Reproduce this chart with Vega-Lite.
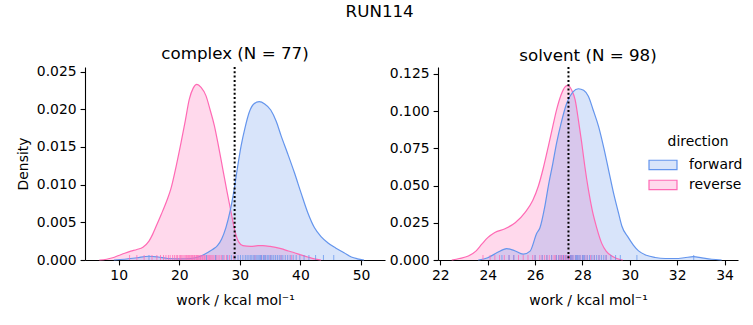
{
  "$schema": "https://vega.github.io/schema/vega-lite/v6.json",
  "padding": {"left": 16, "top": 4, "right": 5, "bottom": 5},
  "title": {"text": "RUN114", "anchor": "middle", "offset": 25.5},
  "config": {
    "font": "DejaVu Sans",
    "view": {"stroke": null},
    "title": {"font": "DejaVu Sans", "fontSize": 16.7, "fontWeight": "normal", "color": "black"},
    "axis": {
      "domainColor": "black", "tickColor": "black", "labelColor": "black", "titleColor": "black",
      "labelFont": "DejaVu Sans", "titleFont": "DejaVu Sans", "labelFontSize": 13.9, "titleFontSize": 13.9,
      "titleFontWeight": "normal", "tickSize": 4.9, "labelPadding": 4, "grid": false,
      "domainWidth": 1.1, "tickWidth": 1.1, "labelOverlap": false, "labelFlush": false
    },
    "axisX": {"titlePadding": 11},
    "axisY": {"titlePadding": 6},
    "legend": {
      "titleFont": "DejaVu Sans", "labelFont": "DejaVu Sans", "titleFontSize": 13.9, "labelFontSize": 13.9,
      "titleFontWeight": "normal", "titleColor": "black", "labelColor": "black",
      "titleAnchor": "middle", "titleAlign": "center", "titlePadding": 6, "padding": 0,
      "symbolType": "M-1.5,-0.5H1.5V0.5H-1.5Z", "symbolSize": 348, "labelOffset": 16, "rowPadding": 2
    }
  },
  "datasets": {
    "complex_kde": [
      {"direction": "reverse", "work": 6.8, "density": 0},
      {"direction": "reverse", "work": 8.0, "density": 0.0001},
      {"direction": "reverse", "work": 9.0, "density": 0.0003},
      {"direction": "reverse", "work": 10.0, "density": 0.0006},
      {"direction": "reverse", "work": 11.0, "density": 0.0009},
      {"direction": "reverse", "work": 12.0, "density": 0.00117},
      {"direction": "reverse", "work": 13.0, "density": 0.0014},
      {"direction": "reverse", "work": 14.0, "density": 0.0017},
      {"direction": "reverse", "work": 15.0, "density": 0.0025},
      {"direction": "reverse", "work": 15.6, "density": 0.0034},
      {"direction": "reverse", "work": 16.2, "density": 0.0045},
      {"direction": "reverse", "work": 17.0, "density": 0.006},
      {"direction": "reverse", "work": 18.0, "density": 0.008},
      {"direction": "reverse", "work": 18.6, "density": 0.0094},
      {"direction": "reverse", "work": 19.5, "density": 0.0125},
      {"direction": "reverse", "work": 20.3, "density": 0.0156},
      {"direction": "reverse", "work": 21.0, "density": 0.0185},
      {"direction": "reverse", "work": 21.65, "density": 0.0213},
      {"direction": "reverse", "work": 22.3, "density": 0.0228},
      {"direction": "reverse", "work": 22.9, "density": 0.0233},
      {"direction": "reverse", "work": 23.6, "density": 0.0229},
      {"direction": "reverse", "work": 24.4, "density": 0.0218},
      {"direction": "reverse", "work": 25.1, "density": 0.0199},
      {"direction": "reverse", "work": 25.8, "density": 0.0178},
      {"direction": "reverse", "work": 26.5, "density": 0.015},
      {"direction": "reverse", "work": 27.2, "density": 0.012},
      {"direction": "reverse", "work": 27.9, "density": 0.009},
      {"direction": "reverse", "work": 28.56, "density": 0.0063},
      {"direction": "reverse", "work": 29.2, "density": 0.0038},
      {"direction": "reverse", "work": 29.8, "density": 0.0024},
      {"direction": "reverse", "work": 30.5, "density": 0.0019},
      {"direction": "reverse", "work": 31.8, "density": 0.0018},
      {"direction": "reverse", "work": 33.0, "density": 0.0019},
      {"direction": "reverse", "work": 33.8, "density": 0.0019},
      {"direction": "reverse", "work": 35.0, "density": 0.0018},
      {"direction": "reverse", "work": 36.8, "density": 0.0015},
      {"direction": "reverse", "work": 38.0, "density": 0.0012},
      {"direction": "reverse", "work": 39.0, "density": 0.00096},
      {"direction": "reverse", "work": 40.0, "density": 0.0007},
      {"direction": "reverse", "work": 41.2, "density": 0.0004},
      {"direction": "reverse", "work": 42.3, "density": 0.00015},
      {"direction": "reverse", "work": 43.4, "density": 0},
      {"direction": "forward", "work": 9.2, "density": 0},
      {"direction": "forward", "work": 11.0, "density": 0.0001},
      {"direction": "forward", "work": 13.0, "density": 0.0003},
      {"direction": "forward", "work": 15.0, "density": 0.0005},
      {"direction": "forward", "work": 16.5, "density": 0.0004},
      {"direction": "forward", "work": 18.1, "density": 0.0002},
      {"direction": "forward", "work": 20.0, "density": 0.00015},
      {"direction": "forward", "work": 21.9, "density": 0.0002},
      {"direction": "forward", "work": 23.5, "density": 0.0005},
      {"direction": "forward", "work": 24.7, "density": 0.001},
      {"direction": "forward", "work": 25.5, "density": 0.0014},
      {"direction": "forward", "work": 26.3, "density": 0.0019},
      {"direction": "forward", "work": 27.0, "density": 0.0028},
      {"direction": "forward", "work": 27.7, "density": 0.0043},
      {"direction": "forward", "work": 28.4, "density": 0.0065},
      {"direction": "forward", "work": 29.07, "density": 0.0094},
      {"direction": "forward", "work": 29.6, "density": 0.0122},
      {"direction": "forward", "work": 30.2, "density": 0.0151},
      {"direction": "forward", "work": 30.9, "density": 0.0177},
      {"direction": "forward", "work": 31.55, "density": 0.0196},
      {"direction": "forward", "work": 32.3, "density": 0.0207},
      {"direction": "forward", "work": 33.2, "density": 0.021},
      {"direction": "forward", "work": 34.1, "density": 0.0207},
      {"direction": "forward", "work": 35.1, "density": 0.0199},
      {"direction": "forward", "work": 36.0, "density": 0.0184},
      {"direction": "forward", "work": 36.8, "density": 0.0165},
      {"direction": "forward", "work": 37.9, "density": 0.0141},
      {"direction": "forward", "work": 39.0, "density": 0.0116},
      {"direction": "forward", "work": 40.1, "density": 0.0089},
      {"direction": "forward", "work": 41.2, "density": 0.0063},
      {"direction": "forward", "work": 42.3, "density": 0.0043},
      {"direction": "forward", "work": 43.4, "density": 0.0031},
      {"direction": "forward", "work": 44.5, "density": 0.0023},
      {"direction": "forward", "work": 45.8, "density": 0.0016},
      {"direction": "forward", "work": 47.2, "density": 0.00096},
      {"direction": "forward", "work": 48.4, "density": 0.0004},
      {"direction": "forward", "work": 49.4, "density": 0.00016},
      {"direction": "forward", "work": 50.5, "density": 0}
    ],
    "solvent_kde": [
      {"direction": "reverse", "work": 22.48, "density": 0},
      {"direction": "reverse", "work": 22.8, "density": 0.001},
      {"direction": "reverse", "work": 23.18, "density": 0.0027},
      {"direction": "reverse", "work": 23.5, "density": 0.006},
      {"direction": "reverse", "work": 23.75, "density": 0.0106},
      {"direction": "reverse", "work": 24.0, "density": 0.015},
      {"direction": "reverse", "work": 24.3, "density": 0.0185},
      {"direction": "reverse", "work": 24.73, "density": 0.021},
      {"direction": "reverse", "work": 25.16, "density": 0.025},
      {"direction": "reverse", "work": 25.58, "density": 0.032},
      {"direction": "reverse", "work": 25.9, "density": 0.04},
      {"direction": "reverse", "work": 26.14, "density": 0.0497},
      {"direction": "reverse", "work": 26.35, "density": 0.062},
      {"direction": "reverse", "work": 26.56, "density": 0.0764},
      {"direction": "reverse", "work": 26.75, "density": 0.09},
      {"direction": "reverse", "work": 26.91, "density": 0.101},
      {"direction": "reverse", "work": 27.1, "density": 0.111},
      {"direction": "reverse", "work": 27.25, "density": 0.116},
      {"direction": "reverse", "work": 27.38, "density": 0.1173},
      {"direction": "reverse", "work": 27.55, "density": 0.114},
      {"direction": "reverse", "work": 27.69, "density": 0.1077},
      {"direction": "reverse", "work": 27.83, "density": 0.094},
      {"direction": "reverse", "work": 27.97, "density": 0.0787},
      {"direction": "reverse", "work": 28.1, "density": 0.063},
      {"direction": "reverse", "work": 28.25, "density": 0.0474},
      {"direction": "reverse", "work": 28.42, "density": 0.033},
      {"direction": "reverse", "work": 28.6, "density": 0.0218},
      {"direction": "reverse", "work": 28.82, "density": 0.011},
      {"direction": "reverse", "work": 29.0, "density": 0.006},
      {"direction": "reverse", "work": 29.24, "density": 0.0027},
      {"direction": "reverse", "work": 29.45, "density": 0.001},
      {"direction": "reverse", "work": 29.7, "density": 0},
      {"direction": "forward", "work": 23.6, "density": 0},
      {"direction": "forward", "work": 24.0, "density": 0.0015},
      {"direction": "forward", "work": 24.4, "density": 0.005},
      {"direction": "forward", "work": 24.8, "density": 0.0077},
      {"direction": "forward", "work": 25.1, "density": 0.0065},
      {"direction": "forward", "work": 25.5, "density": 0.0039},
      {"direction": "forward", "work": 25.79, "density": 0.006},
      {"direction": "forward", "work": 26.07, "density": 0.018},
      {"direction": "forward", "work": 26.21, "density": 0.0218},
      {"direction": "forward", "work": 26.4, "density": 0.035},
      {"direction": "forward", "work": 26.56, "density": 0.0497},
      {"direction": "forward", "work": 26.75, "density": 0.065},
      {"direction": "forward", "work": 26.91, "density": 0.0787},
      {"direction": "forward", "work": 27.1, "density": 0.092},
      {"direction": "forward", "work": 27.34, "density": 0.1055},
      {"direction": "forward", "work": 27.6, "density": 0.113},
      {"direction": "forward", "work": 27.83, "density": 0.1151},
      {"direction": "forward", "work": 28.05, "density": 0.114},
      {"direction": "forward", "work": 28.25, "density": 0.11},
      {"direction": "forward", "work": 28.45, "density": 0.101},
      {"direction": "forward", "work": 28.68, "density": 0.0898},
      {"direction": "forward", "work": 28.9, "density": 0.0755},
      {"direction": "forward", "work": 29.1, "density": 0.0608},
      {"direction": "forward", "work": 29.3, "density": 0.046},
      {"direction": "forward", "work": 29.52, "density": 0.0318},
      {"direction": "forward", "work": 29.66, "density": 0.023},
      {"direction": "forward", "work": 29.94, "density": 0.015},
      {"direction": "forward", "work": 30.15, "density": 0.01},
      {"direction": "forward", "work": 30.37, "density": 0.0061},
      {"direction": "forward", "work": 30.7, "density": 0.0032},
      {"direction": "forward", "work": 31.07, "density": 0.0017},
      {"direction": "forward", "work": 31.5, "density": 0.001},
      {"direction": "forward", "work": 31.92, "density": 0.001},
      {"direction": "forward", "work": 32.3, "density": 0.0015},
      {"direction": "forward", "work": 32.69, "density": 0.0023},
      {"direction": "forward", "work": 33.05, "density": 0.0014},
      {"direction": "forward", "work": 33.46, "density": 0.0005},
      {"direction": "forward", "work": 33.88, "density": 0}
    ],
    "complex_rug": [
      {"direction": "reverse", "work": 11.8}, {"direction": "reverse", "work": 13.0}, {"direction": "reverse", "work": 14.2},
      {"direction": "reverse", "work": 15.5}, {"direction": "reverse", "work": 16.3}, {"direction": "reverse", "work": 16.9},
      {"direction": "reverse", "work": 17.4}, {"direction": "reverse", "work": 17.8}, {"direction": "reverse", "work": 18.2},
      {"direction": "reverse", "work": 18.5}, {"direction": "reverse", "work": 18.9}, {"direction": "reverse", "work": 19.2},
      {"direction": "reverse", "work": 19.5}, {"direction": "reverse", "work": 19.7}, {"direction": "reverse", "work": 20.0},
      {"direction": "reverse", "work": 20.2}, {"direction": "reverse", "work": 20.4}, {"direction": "reverse", "work": 20.6},
      {"direction": "reverse", "work": 20.8}, {"direction": "reverse", "work": 21.0}, {"direction": "reverse", "work": 21.2},
      {"direction": "reverse", "work": 21.4}, {"direction": "reverse", "work": 21.5}, {"direction": "reverse", "work": 21.7},
      {"direction": "reverse", "work": 21.9}, {"direction": "reverse", "work": 22.0}, {"direction": "reverse", "work": 22.2},
      {"direction": "reverse", "work": 22.3}, {"direction": "reverse", "work": 22.5}, {"direction": "reverse", "work": 22.6},
      {"direction": "reverse", "work": 22.8}, {"direction": "reverse", "work": 22.9}, {"direction": "reverse", "work": 23.0},
      {"direction": "reverse", "work": 23.2}, {"direction": "reverse", "work": 23.3}, {"direction": "reverse", "work": 23.5},
      {"direction": "reverse", "work": 23.6}, {"direction": "reverse", "work": 23.8}, {"direction": "reverse", "work": 23.9},
      {"direction": "reverse", "work": 24.1}, {"direction": "reverse", "work": 24.2}, {"direction": "reverse", "work": 24.4},
      {"direction": "reverse", "work": 24.6}, {"direction": "reverse", "work": 24.8}, {"direction": "reverse", "work": 25.0},
      {"direction": "reverse", "work": 25.2}, {"direction": "reverse", "work": 25.4}, {"direction": "reverse", "work": 25.6},
      {"direction": "reverse", "work": 25.9}, {"direction": "reverse", "work": 26.1}, {"direction": "reverse", "work": 26.4},
      {"direction": "reverse", "work": 26.7}, {"direction": "reverse", "work": 27.0}, {"direction": "reverse", "work": 27.4},
      {"direction": "reverse", "work": 27.8}, {"direction": "reverse", "work": 28.3}, {"direction": "reverse", "work": 29.0},
      {"direction": "reverse", "work": 32.5}, {"direction": "reverse", "work": 33.6}, {"direction": "reverse", "work": 34.2},
      {"direction": "reverse", "work": 35.0}, {"direction": "reverse", "work": 36.8}, {"direction": "reverse", "work": 38.5},
      {"direction": "forward", "work": 15.0}, {"direction": "forward", "work": 24.5}, {"direction": "forward", "work": 26.0},
      {"direction": "forward", "work": 27.2}, {"direction": "forward", "work": 28.0}, {"direction": "forward", "work": 28.6},
      {"direction": "forward", "work": 29.2}, {"direction": "forward", "work": 29.7}, {"direction": "forward", "work": 30.1},
      {"direction": "forward", "work": 30.5}, {"direction": "forward", "work": 30.9}, {"direction": "forward", "work": 31.2},
      {"direction": "forward", "work": 31.5}, {"direction": "forward", "work": 31.8}, {"direction": "forward", "work": 32.0},
      {"direction": "forward", "work": 32.3}, {"direction": "forward", "work": 32.5}, {"direction": "forward", "work": 32.8},
      {"direction": "forward", "work": 33.0}, {"direction": "forward", "work": 33.2}, {"direction": "forward", "work": 33.4},
      {"direction": "forward", "work": 33.6}, {"direction": "forward", "work": 33.9}, {"direction": "forward", "work": 34.1},
      {"direction": "forward", "work": 34.3}, {"direction": "forward", "work": 34.6}, {"direction": "forward", "work": 34.8},
      {"direction": "forward", "work": 35.1}, {"direction": "forward", "work": 35.3}, {"direction": "forward", "work": 35.6},
      {"direction": "forward", "work": 35.9}, {"direction": "forward", "work": 36.2}, {"direction": "forward", "work": 36.5},
      {"direction": "forward", "work": 36.8}, {"direction": "forward", "work": 37.1}, {"direction": "forward", "work": 37.5},
      {"direction": "forward", "work": 37.9}, {"direction": "forward", "work": 38.3}, {"direction": "forward", "work": 38.8},
      {"direction": "forward", "work": 39.3}, {"direction": "forward", "work": 39.9}, {"direction": "forward", "work": 40.6},
      {"direction": "forward", "work": 41.4}, {"direction": "forward", "work": 42.5}, {"direction": "forward", "work": 43.8},
      {"direction": "forward", "work": 45.5}
    ],
    "solvent_rug": [
      {"direction": "reverse", "work": 23.8}, {"direction": "reverse", "work": 24.1}, {"direction": "reverse", "work": 24.3},
      {"direction": "reverse", "work": 24.5}, {"direction": "reverse", "work": 24.7}, {"direction": "reverse", "work": 24.9},
      {"direction": "reverse", "work": 25.1}, {"direction": "reverse", "work": 25.3}, {"direction": "reverse", "work": 25.5},
      {"direction": "reverse", "work": 25.7}, {"direction": "reverse", "work": 25.9}, {"direction": "reverse", "work": 26.0},
      {"direction": "reverse", "work": 26.2}, {"direction": "reverse", "work": 26.3}, {"direction": "reverse", "work": 26.4},
      {"direction": "reverse", "work": 26.5}, {"direction": "reverse", "work": 26.6}, {"direction": "reverse", "work": 26.7},
      {"direction": "reverse", "work": 26.8}, {"direction": "reverse", "work": 26.85}, {"direction": "reverse", "work": 26.9},
      {"direction": "reverse", "work": 27.0}, {"direction": "reverse", "work": 27.05}, {"direction": "reverse", "work": 27.1},
      {"direction": "reverse", "work": 27.15}, {"direction": "reverse", "work": 27.2}, {"direction": "reverse", "work": 27.25},
      {"direction": "reverse", "work": 27.3}, {"direction": "reverse", "work": 27.35}, {"direction": "reverse", "work": 27.4},
      {"direction": "reverse", "work": 27.45}, {"direction": "reverse", "work": 27.5}, {"direction": "reverse", "work": 27.55},
      {"direction": "reverse", "work": 27.6}, {"direction": "reverse", "work": 27.7}, {"direction": "reverse", "work": 27.8},
      {"direction": "reverse", "work": 27.9}, {"direction": "reverse", "work": 28.0}, {"direction": "reverse", "work": 28.1},
      {"direction": "reverse", "work": 28.2}, {"direction": "reverse", "work": 28.35}, {"direction": "reverse", "work": 28.5},
      {"direction": "reverse", "work": 28.7}, {"direction": "reverse", "work": 29.0},
      {"direction": "forward", "work": 24.6}, {"direction": "forward", "work": 24.9}, {"direction": "forward", "work": 25.1},
      {"direction": "forward", "work": 26.0}, {"direction": "forward", "work": 26.3}, {"direction": "forward", "work": 26.5},
      {"direction": "forward", "work": 26.7}, {"direction": "forward", "work": 26.9}, {"direction": "forward", "work": 27.0},
      {"direction": "forward", "work": 27.1}, {"direction": "forward", "work": 27.2}, {"direction": "forward", "work": 27.3},
      {"direction": "forward", "work": 27.4}, {"direction": "forward", "work": 27.5}, {"direction": "forward", "work": 27.55},
      {"direction": "forward", "work": 27.6}, {"direction": "forward", "work": 27.7}, {"direction": "forward", "work": 27.75},
      {"direction": "forward", "work": 27.8}, {"direction": "forward", "work": 27.85}, {"direction": "forward", "work": 27.9},
      {"direction": "forward", "work": 28.0}, {"direction": "forward", "work": 28.05}, {"direction": "forward", "work": 28.1},
      {"direction": "forward", "work": 28.2}, {"direction": "forward", "work": 28.3}, {"direction": "forward", "work": 28.4},
      {"direction": "forward", "work": 28.5}, {"direction": "forward", "work": 28.6}, {"direction": "forward", "work": 28.7},
      {"direction": "forward", "work": 28.8}, {"direction": "forward", "work": 28.9}, {"direction": "forward", "work": 29.0},
      {"direction": "forward", "work": 29.2}, {"direction": "forward", "work": 29.4}, {"direction": "forward", "work": 29.6},
      {"direction": "forward", "work": 30.3}, {"direction": "forward", "work": 32.7}
    ],
    "complex_ref": [{"work": 29.14}],
    "solvent_ref": [{"work": 27.41}]
  },
  "spacing": 4,
  "resolve": {"scale": {"x": "independent", "y": "independent", "color": "shared"}},
  "hconcat": [
    {
      "width": 300, "height": 193,
      "title": {"text": "complex (N = 77)", "offset": 1.5},
      "layer": [
        {
          "data": {"name": "complex_kde"},
          "mark": {"type": "area", "fillOpacity": 0.25, "interpolate": "monotone", "line": {"strokeWidth": 1.2}},
          "encoding": {
            "x": {"field": "work", "type": "quantitative", "scale": {"domain": [4.44, 53.96], "nice": false, "zero": false},
                  "axis": {"values": [10, 20, 30, 40, 50], "tickCount": 20, "format": "d", "title": "work / kcal mol⁻¹"}},
            "y": {"field": "density", "type": "quantitative", "stack": null, "scale": {"domain": [0, 0.0256], "nice": false},
                  "axis": {"values": [0, 0.005, 0.01, 0.015, 0.02, 0.025], "tickCount": 20, "format": ".3f", "title": "Density"}},
            "color": {"field": "direction", "type": "nominal", "scale": {"domain": ["forward", "reverse"], "range": ["#6495ED", "#FF69B4"]},
                      "legend": {"title": "direction", "orient": "none", "legendX": 568, "legendY": 68,
                                 "encode": {"symbols": {"update": {"fillOpacity": {"value": 0.25}, "opacity": {"value": 1}, "stroke": {"scale": "color", "field": "value"}, "strokeWidth": {"value": 1.2}}}}}}
          }
        },
        {
          "data": {"name": "complex_rug"},
          "mark": {"type": "tick", "orient": "vertical", "thickness": 1, "size": 5, "yOffset": -2.5, "opacity": 0.75},
          "encoding": {
            "x": {"field": "work", "type": "quantitative"},
            "y": {"datum": 0, "type": "quantitative"},
            "color": {"field": "direction", "type": "nominal"}
          }
        },
        {
          "data": {"name": "complex_ref"},
          "mark": {"type": "rule", "color": "black", "strokeWidth": 2, "strokeDash": [2, 2.3]},
          "encoding": {"x": {"field": "work", "type": "quantitative"}}
        }
      ]
    },
    {
      "width": 300, "height": 193,
      "title": {"text": "solvent (N = 98)", "offset": 1.5},
      "layer": [
        {
          "data": {"name": "solvent_kde"},
          "mark": {"type": "area", "fillOpacity": 0.25, "interpolate": "monotone", "line": {"strokeWidth": 1.2}},
          "encoding": {
            "x": {"field": "work", "type": "quantitative", "scale": {"domain": [21.9, 34.57], "nice": false, "zero": false},
                  "axis": {"values": [22, 24, 26, 28, 30, 32, 34], "tickCount": 20, "format": "d", "title": "work / kcal mol⁻¹"}},
            "y": {"field": "density", "type": "quantitative", "stack": null, "scale": {"domain": [0, 0.1297], "nice": false},
                  "axis": {"values": [0, 0.025, 0.05, 0.075, 0.1, 0.125], "tickCount": 20, "format": ".3f", "title": null}},
            "color": {"field": "direction", "type": "nominal"}
          }
        },
        {
          "data": {"name": "solvent_rug"},
          "mark": {"type": "tick", "orient": "vertical", "thickness": 1, "size": 5, "yOffset": -2.5, "opacity": 0.75},
          "encoding": {
            "x": {"field": "work", "type": "quantitative"},
            "y": {"datum": 0, "type": "quantitative"},
            "color": {"field": "direction", "type": "nominal"}
          }
        },
        {
          "data": {"name": "solvent_ref"},
          "mark": {"type": "rule", "color": "black", "strokeWidth": 2, "strokeDash": [2, 2.3]},
          "encoding": {"x": {"field": "work", "type": "quantitative"}}
        }
      ]
    }
  ]
}
